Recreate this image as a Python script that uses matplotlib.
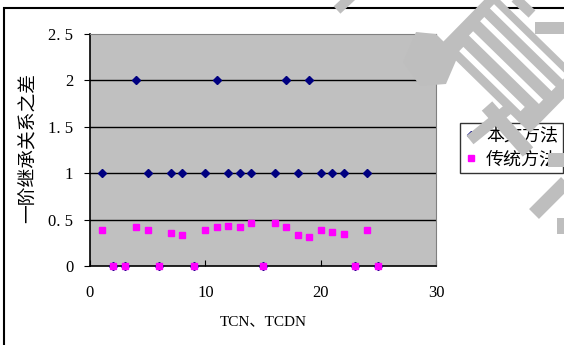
import matplotlib
matplotlib.use("Agg")
import numpy as np
import matplotlib.pyplot as plt
from matplotlib.patches import Rectangle, Polygon

x_vals = list(range(1, 26))
ours = [1, 0, 0, 2, 1, 0, 1, 1, 0, 1, 2, 1, 1, 1, 0, 1, 2, 1, 2, 1, 1, 1, 0, 1, 0]
trad = [0.39, 0, 0, 0.42, 0.39, 0, 0.36, 0.33, 0, 0.39, 0.42, 0.43, 0.42, 0.46, 0,
        0.46, 0.42, 0.33, 0.31, 0.39, 0.37, 0.34, 0, 0.39, 0]
series_names = ["本文方法", "传统方法"]
xlabel = "TCN、TCDN"
ylabel = "一阶继承关系之差"
xticks = [0, 10, 20, 30]
yticks = [0, 0.5, 1, 1.5, 2, 2.5]
ytick_labels = ["0", "0. 5", "1", "1. 5", "2", "2. 5"]

plt.rcParams['font.family'] = ['Liberation Serif', 'Noto Sans CJK SC']

fig = plt.figure(figsize=(5.64, 3.45), dpi=100)
W, H = 564, 345

# outer border
fig.patches.append(Rectangle((4 / W, -0.1), 1.2, (345 - 8) / H + 0.1, transform=fig.transFigure,
                             fill=False, edgecolor='black', linewidth=1.5, zorder=0))

ax = fig.add_axes([90 / W, (H - 266) / H, (436 - 90) / W, (266 - 34) / H])
ax.set_facecolor('#C0C0C0')
ax.set_xlim(0, 30)
ax.set_ylim(0, 2.5)
for yv in yticks[1:-1]:
    ax.axhline(yv, color='black', linewidth=1.0, zorder=1)

ax.plot(x_vals, ours, linestyle='none', marker='D', markersize=4.2, color='#000080',
        label=series_names[0], zorder=3, clip_on=False)
ax.plot(x_vals, trad, linestyle='none', marker='s', markersize=5, color='#FF00FF',
        label=series_names[1], zorder=4, clip_on=False)

ax.set_xticks(xticks)
ax.set_yticks(yticks)
ax.set_yticklabels(ytick_labels)
ax.tick_params(axis='x', direction='in', length=4, labelsize=12, pad=14, colors='black')
ax.tick_params(axis='y', direction='out', length=4, labelsize=12, pad=8)
for lab in ax.get_xticklabels() + ax.get_yticklabels():
    lab.set_family(['Liberation Serif'])
for s in ['top', 'right']:
    ax.spines[s].set_color('#808080')
for s in ['left', 'bottom']:
    ax.spines[s].set_color('black')
    ax.spines[s].set_linewidth(1.2)

fig.text(263 / W, 1 - 322 / H, xlabel, ha='center', va='center', fontsize=11,
         family=['Liberation Serif', 'Noto Sans CJK SC'])
fig.text(27 / W, 1 - 148 / H, ylabel, ha='center', va='center', rotation=90, fontsize=13.5,
         family=['Noto Sans CJK SC'])

leg = fig.legend(loc='upper left', bbox_to_anchor=(460 / W, 1 - 123 / H), frameon=True,
                 fancybox=False, edgecolor='black', handlelength=0.7,
                 handletextpad=0.5, borderpad=0.25, labelspacing=0.25, borderaxespad=0,
                 prop={'family': ['Noto Sans CJK SC'], 'size': 13})
leg.get_frame().set_linewidth(1.0)

# watermark-like gray shapes (pixel coordinates)
wm = '#BEBEBE'
def poly(pts, color=wm, z=10):
    fig.patches.append(Polygon([(px / W, 1 - py / H) for px, py in pts], closed=True,
                               transform=fig.transFigure, facecolor=color, edgecolor='none',
                               zorder=z))

def band(p0, p1, w, color=wm, z=10):
    p0 = np.array(p0, float); p1 = np.array(p1, float)
    d = p1 - p0
    n = np.array([-d[1], d[0]]) / np.hypot(*d) * w / 2
    poly([p0 + n, p1 + n, p1 - n, p0 - n], color, z)

# frame (parallelogram) with white stripes
L = np.array([440, 45]); T = np.array([492, -8]); R = np.array([582, 80]); B = np.array([530, 133])
poly([L, T, R, B])
u = (B - L) / np.linalg.norm(B - L)
v = (T - L) / np.linalg.norm(T - L)
for off, s0, s1 in [(12, 18, 22), (30, 14, 14), (48, 12, 14), (64, 10, 14)]:
    start = L + v * off + u * s0
    end = B + v * off - u * s1
    band(start, end, 6, color='white', z=11)
# arc-ish shape crossing plot corner
poly([(403, 62), (416, 32), (436, 34), (458, 56), (446, 84), (420, 86)])
# small strokes
band((352, -4), (337, 10), 10)
band((515, -2), (532, 14), 10)
band((535, 28), (566, 28), 12)
# bands through the legend
band((487, 106), (528, 152), 14)
band((512, 106), (470, 140), 11)
band((548, 160), (566, 160), 14)
# lower right strokes
band((534, 214), (566, 182), 14)
band((561, 218), (561, 234), 8)

fig.savefig('out.png', dpi=100)
